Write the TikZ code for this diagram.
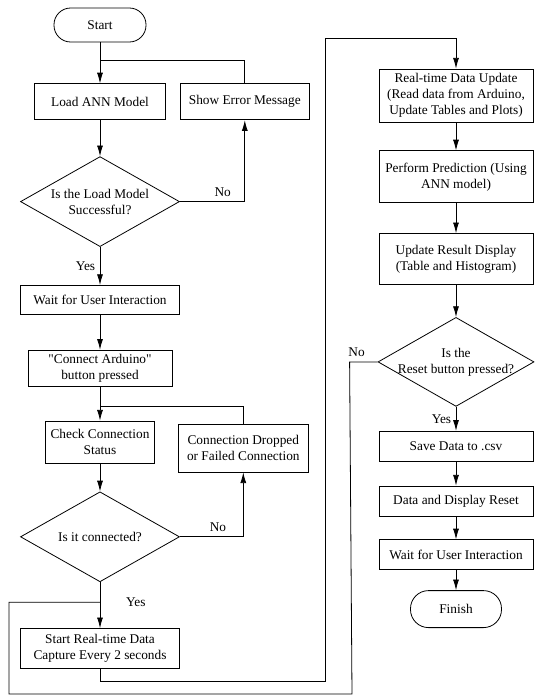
\documentclass[tikz,border=0pt]{standalone}
\usepackage{fontspec}
\setmainfont{Liberation Serif}
\usetikzlibrary{positioning,shapes.geometric,arrows.meta}

\begin{document}
\begin{tikzpicture}[x=0.75pt, y=-0.75pt, line width=0.6pt,
            box/.style={rectangle, draw, align=center, inner sep=2pt, minimum height=27pt},
            term/.style={rectangle, draw, rounded corners=12.5pt, minimum width=69pt, minimum height=25.5pt},
            dec/.style={diamond, draw, align=center, inner sep=0pt, aspect=1.77, minimum width=119.25pt, minimum height=67.5pt},
            arr/.style={-{Latex[length=8pt,width=4.5pt]}},]
        \useasboundingbox (0,0) rectangle (535,696);
        % left column
        \node[term](start) at (100,25){Start};
        \node[box, minimum width=98.25pt](load)[below=30.75pt of start]{Load ANN Model};
        \node[box, minimum width=96.75pt](err)[right=10.5pt of load]{Show Error Message};
        \node[dec](dec1)[below=27pt of load]{Is the Load Model\\Successful?};
        \node[box, minimum width=119.25pt, minimum height=21.75pt](wait1)[below=28.5pt of dec1]{Wait for User Interaction};
        \node[box, minimum width=108pt](conn)[below=26.25pt of wait1]{\textquotedbl Connect Arduino\textquotedbl\\button pressed};
        \node[box, minimum width=81.75pt, minimum height=31.5pt](check)[below=25.5pt of conn]{Check Connection\\Status};
        \node[box, minimum width=97.5pt, minimum height=36pt](drop)[right=17.25pt of check, yshift=-4.5pt]{Connection Dropped\\or Failed Connection};
        \node[dec](dec2)[below=21pt of check]{Is it connected?};
        \node[box, minimum width=119.25pt, minimum height=30pt](capture)[below=34.5pt of dec2]{Start Real-time Data\\Capture Every 2 seconds};
        % right column
        \node[box, minimum width=115.5pt, minimum height=39.75pt](update) at (456,95.5){Real-time Data Update\\(Read data from Arduino,\\Update Tables and Plots)};
        \node[box, minimum width=115.5pt, minimum height=39pt](predict)[below=21pt of update]{Perform Prediction (Using\\ANN model)};
        \node[box, minimum width=115.5pt, minimum height=38.25pt](result)[below=22.5pt of predict]{Update Result Display\\(Table and Histogram)};
        \node[dec, inner sep=-1.5pt, minimum width=117pt, minimum height=66.75pt](dec3)[below=24pt of result]{Is the\\Reset button pressed?};
        \node[box, minimum width=115.5pt, minimum height=22.5pt](save)[below=18pt of dec3]{Save Data to .csv};
        \node[box, minimum width=115.5pt, minimum height=22.5pt](reset)[below=18pt of save]{Data and Display Reset};
        \node[box, minimum width=115.5pt, minimum height=22.5pt](wait2)[below=17.25pt of reset]{Wait for User Interaction};
        \node[term, rounded corners=13.5pt, minimum width=68.25pt, minimum height=27.75pt](finish)[below=15pt of wait2]{Finish};
        % junctions and corners
        \coordinate[below=13.5pt of start.south](j1);
        \coordinate[below=15pt of conn.south](j2);
        \coordinate[below=15pt of dec2.south](j3);
        \coordinate(r1) at (325,681);
        \coordinate(r2) at (325,38);
        \coordinate(n1) at (352,694);
        \coordinate(n2) at (9,694);
        % connectors
        \draw[arr] (start.south) -- (load.north);
        \draw[arr] (load.south) -- (dec1.north);
        \draw[arr] (dec1.east) -| node[pos=0.33, above]{No} (err.south);
        \draw (err.north) |- (j1);
        \draw[arr] (dec1.south) -- node[left]{Yes} (wait1.north);
        \draw[arr] (wait1.south) -- (conn.north);
        \draw[arr] (conn.south) -- (check.north);
        \draw[arr] (check.south) -- (dec2.north);
        \draw[arr] (dec2.east) -| node[pos=0.3, above]{No} (drop.south);
        \draw (drop.north) |- (j2);
        \draw[arr] (dec2.south) -- node[pos=0.43, right=16pt]{Yes} (capture.north);
        \draw[arr] (capture.south) |- (r1) -- (r2) -| (update.north);
        \draw[arr] (update.south) -- (predict.north);
        \draw[arr] (predict.south) -- (result.north);
        \draw[arr] (result.south) -- (dec3.north);
        \draw (dec3.west) -- ++(-28,0) node[pos=0.75, above]{No} -- (n1) -- (n2) |- (j3);
        \draw[arr] (dec3.south) -- node[left]{Yes} (save.north);
        \draw[arr] (save.south) -- (reset.north);
        \draw[arr] (reset.south) -- (wait2.north);
        \draw[arr] (wait2.south) -- (finish.north);
    \end{tikzpicture}
\end{document}
